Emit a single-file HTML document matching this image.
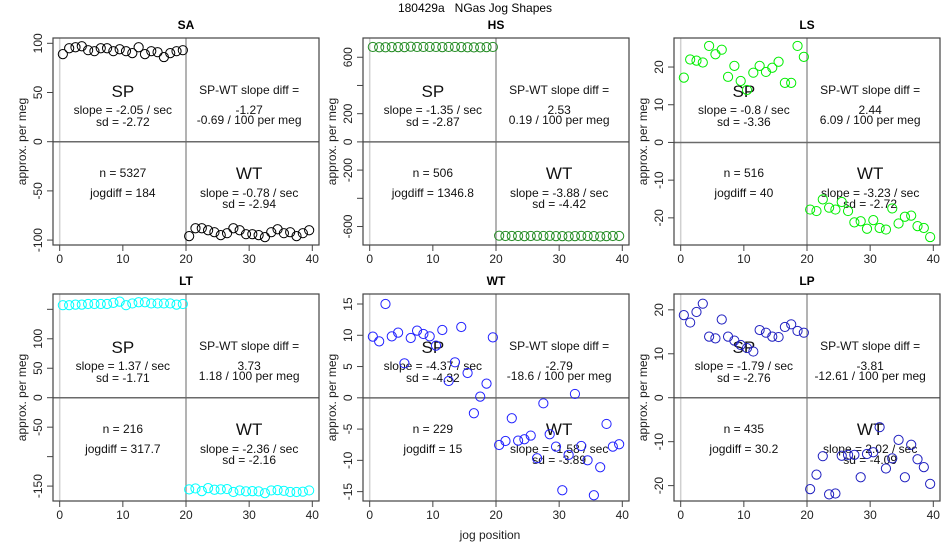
<!DOCTYPE html>
<html><head><meta charset="utf-8"><style>
html,body{margin:0;padding:0;background:#fff;}
svg{display:block;font-family:"Liberation Sans",Arial,sans-serif;}
</style></head><body>
<svg id="chart" width="950" height="550" viewBox="0 0 950 550">
<text x="475" y="12" text-anchor="middle" font-size="12" style="white-space:pre" xml:space="preserve">180429a   NGas Jog Shapes</text>
</svg>
<script>
const xTicks = [0, 10, 20, 30, 40];
const spX = [0.5,1.5,2.5,3.5,4.5,5.5,6.5,7.5,8.5,9.5,10.5,11.5,12.5,13.5,14.5,15.5,16.5,17.5,18.5,19.5];
const wtX = [20.5,21.5,22.5,23.5,24.5,25.5,26.5,27.5,28.5,29.5,30.5,31.5,32.5,33.5,34.5,35.5,36.5,37.5,38.5,39.5];

const saSP = [89,95,96,97,93,92,95,95,92,94,92,90,96,89,92,91,86,90,92,93];
const saWT = [-96,-88,-88,-90,-92,-95,-93,-88,-90,-94,-94,-95,-97,-92,-89,-93,-92,-96,-93,-90];
const saTicks = [100,50,0,-50,-100];

const hsSP = [673,671,671,672,672,672,675,673,673,673,673,672,673,673,672,671,670,670,672,673];
const hsWT = [-665,-667,-667,-667,-668,-667,-666,-667,-666,-668,-668,-670,-668,-666,-667,-668,-671,-668,-667,-667];
const hsTicks = [600,400,200,0,-200,-400,-600];
const hsLabels = ["600","","200","0","-200","","-600"];

const lsSP = [17.2,22,21.7,21.2,25.6,23.4,24.6,17.4,20.3,16.3,13.9,18.5,20.3,18.7,19.8,21.4,15.8,15.8,25.6,22.7];
const lsWT = [-17.8,-18.2,-15.1,-17.3,-17.8,-15.8,-18.2,-21.2,-20.9,-22.9,-20.6,-22.7,-23.1,-17.5,-21.5,-19.7,-19.4,-22.2,-22.7,-25.1];
const lsTicks = [20,10,0,-10,-20];

const ltSP = [157,157,158,158,159,159,159,159,161,163,157,160,162,162,160,160,160,160,158,159];
const ltWT = [-155.6,-154,-158.5,-153.4,-156.2,-155.6,-155,-160,-157.4,-159,-158.5,-159,-162,-157.4,-156.8,-158,-160,-160,-159.5,-157.4];
const ltTicks = [150,100,50,0,-50,-100,-150];
const ltLabels = ["","100","50","0","-50","","-150"];

const wtSP = [9.78,9.03,15,9.83,10.42,5.52,9.57,10.74,10.2,9.83,8.34,10.84,2.69,5.68,11.32,3.97,-2.47,0.19,2.27,9.67];
const wtWT = [-7.54,-6.9,-3.27,-6.84,-6.63,-6.04,-9.67,-0.88,-5.83,-7.8,-14.78,-9.13,0.62,-7.7,-9.99,-15.58,-11.1,-4.18,-7.8,-7.43];
const wtTicks = [15,10,5,0,-5,-10,-15];

const lpSP = [18.8,17.1,19.5,21.4,13.9,13.5,17.8,13.9,13.0,12.0,11.3,10.5,15.4,14.8,13.9,13.8,16.1,16.7,15.2,14.8];
const lpWT = [-20.8,-17.5,-13.3,-22.0,-21.8,-13.2,-13.0,-13.0,-18.1,-12.8,-12.4,-6.7,-16.1,-13.8,-9.6,-18.1,-10.7,-14.0,-15.8,-19.6];
const lpTicks = [20,10,0,-10,-20];

const panels = [
 {name:'SA', col:0,row:0, sp:saSP, wt:saWT, ticks:saTicks, labels:null, ymin:-105, ymax:105.4, color:'#000000',
  t:{spS:'-2.05',spSd:'-2.72',diff:'-1.27',per:'-0.69',n:'5327',jog:'184',wtS:'-0.78',wtSd:'-2.94'}},
 {name:'HS', col:1,row:0, sp:hsSP, wt:hsWT, ticks:hsTicks, labels:hsLabels, ymin:-731, ymax:736.5, color:'#228B22',
  t:{spS:'-1.35',spSd:'-2.87',diff:'2.53',per:'0.19',n:'506',jog:'1346.8',wtS:'-3.88',wtSd:'-4.42'}},
 {name:'LS', col:2,row:0, sp:lsSP, wt:lsWT, ticks:lsTicks, labels:null, ymin:-27.2, ymax:27.7, color:'#00EE00',
  t:{spS:'-0.8',spSd:'-3.36',diff:'2.44',per:'6.09',n:'516',jog:'40',wtS:'-3.23',wtSd:'-2.72'}},
 {name:'LT', col:0,row:1, sp:ltSP, wt:ltWT, ticks:ltTicks, labels:ltLabels, ymin:-175.3, ymax:176, color:'#00FFFF',
  t:{spS:'1.37',spSd:'-1.71',diff:'3.73',per:'1.18',n:'216',jog:'317.7',wtS:'-2.36',wtSd:'-2.16'}},
 {name:'WT', col:1,row:1, sp:wtSP, wt:wtWT, ticks:wtTicks, labels:null, ymin:-16.5, ymax:16.6, color:'#2222FF',
  t:{spS:'-4.37',spSd:'-4.32',diff:'-2.79',per:'-18.6',n:'229',jog:'15',wtS:'-1.58',wtSd:'-3.89'}},
 {name:'LP', col:2,row:1, sp:lpSP, wt:lpWT, ticks:lpTicks, labels:null, ymin:-23.5, ymax:23.6, color:'#2020C0',
  t:{spS:'-1.79',spSd:'-2.76',diff:'-3.81',per:'-12.61',n:'435',jog:'30.2',wtS:'2.02',wtSd:'-4.09'}}
];

const colLeft = [53, 363, 674];
const boxW = 266;
const rowTop = [38, 294];
const boxH = 207;
const XMIN = -1.06, XMAX = 41.06;
const NS = 'http://www.w3.org/2000/svg';
const svg = document.getElementById('chart');

function mk(tag, attrs, parent, txt){
  const e = document.createElementNS(NS, tag);
  for (const k in attrs) e.setAttribute(k, attrs[k]);
  if (txt !== undefined) e.textContent = txt;
  (parent || svg).appendChild(e);
  return e;
}

panels.forEach(p => {
  const L = colLeft[p.col], T = rowTop[p.row], R = L + boxW, B = T + boxH;
  const xs = v => L + (v - XMIN) / (XMAX - XMIN) * boxW;
  const ys = v => B - (v - p.ymin) / (p.ymax - p.ymin) * boxH;
  const slug = p.name.toLowerCase();
  const g = mk('g', {});
  
  

  const title = mk('text', {x:(L+R)/2, y:T-9, 'text-anchor':'middle', 'font-size':12, 'font-weight':'bold'}, g, p.name);
  
  

  const l0 = mk('line', {x1:xs(0), x2:xs(0), y1:T, y2:B, stroke:'#d0d0d0', 'stroke-width':1.5}, g);
  
  
  const lv = mk('line', {x1:xs(20), x2:xs(20), y1:T, y2:B, stroke:'#8a8a8a', 'stroke-width':1.3}, g);
  
  
  const lh = mk('line', {x1:L, x2:R, y1:ys(0), y2:ys(0), stroke:'#6a6a6a', 'stroke-width':1.5}, g);
  
  

  const box = mk('rect', {x:L, y:T, width:boxW, height:boxH, fill:'none', stroke:'#444', 'stroke-width':1.2}, g);
  
  

  xTicks.forEach(v => {
    const tk = mk('line', {x1:xs(v), x2:xs(v), y1:B, y2:B+6, stroke:'#444'}, g);
    
    
    const tl = mk('text', {x:xs(v), y:B+18, 'text-anchor':'middle', 'font-size':12, fill:'#222'}, g, String(v));
    
    
  });
  p.ticks.forEach((v, i) => {
    const y = ys(v);
    const tk = mk('line', {x1:L-6, x2:L, y1:y, y2:y, stroke:'#444'}, g);
    
    
    const lab = p.labels ? p.labels[i] : String(v);
    if (lab) {
      const tl = mk('text', {x:L-11, y:y, 'text-anchor':'middle', 'font-size':12, fill:'#222',
        transform:'rotate(-90 ' + (L-11) + ' ' + y + ')'}, g, lab);
      
      
    }
  });
  const yt = mk('text', {x:L-27, y:(T+B)/2, 'text-anchor':'middle', 'font-size':12, fill:'#222',
    transform:'rotate(-90 ' + (L-27) + ' ' + (T+B)/2 + ')'}, g, 'approx. per meg');
  
  

  const cl = xs(10), cr = xs(30);
  const ann = [
    [cl, T+59, 17, 'SP', 'sp-label'],
    [cl, T+76, 12, 'slope = ' + p.t.spS + ' / sec', 'sp-slope'],
    [cl, T+88, 12, 'sd = ' + p.t.spSd, 'sp-sd'],
    [cr, T+56, 12, 'SP-WT slope diff =', 'slope-diff-label'],
    [cr, T+76, 12, p.t.diff, 'slope-diff-value'],
    [cr, T+86, 12, p.t.per + ' / 100 per meg', 'slope-diff-per-meg'],
    [cl, T+139, 12, 'n = ' + p.t.n, 'n-count'],
    [cl, T+159, 12, 'jogdiff = ' + p.t.jog, 'jogdiff'],
    [cr, T+141, 17, 'WT', 'wt-label'],
    [cr, T+159, 12, 'slope = ' + p.t.wtS + ' / sec', 'wt-slope'],
    [cr, T+170, 12, 'sd = ' + p.t.wtSd, 'wt-sd']
  ];
  ann.forEach(a => {
    const t = mk('text', {x:a[0], y:a[1], 'text-anchor':'middle', 'font-size':a[2], fill:'#111'}, g, a[3]);
    
    
  });

  p.sp.forEach((v, i) => {
    const c = mk('circle', {cx:xs(spX[i]), cy:ys(v), r:4.6, fill:'none', stroke:p.color, 'stroke-width':1}, g);
    
    
  });
  p.wt.forEach((v, i) => {
    const c = mk('circle', {cx:xs(wtX[i]), cy:ys(v), r:4.6, fill:'none', stroke:p.color, 'stroke-width':1}, g);
    
    
  });
});

const xt = mk('text', {x:490, y:539, 'text-anchor':'middle', 'font-size':12, fill:'#222'}, svg, 'jog position');


</script>
</body></html>
